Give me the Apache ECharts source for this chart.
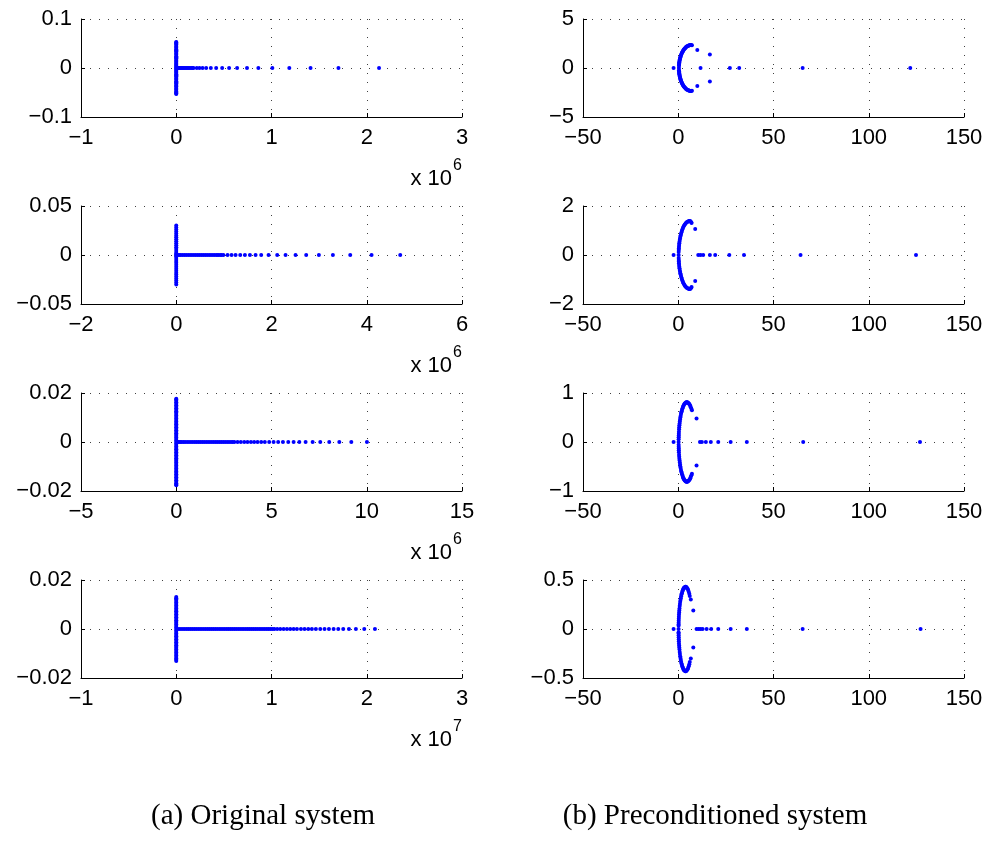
<!DOCTYPE html>
<html><head><meta charset="utf-8">
<script src="https://cdn.jsdelivr.net/npm/echarts@6/dist/echarts.min.js"></script>
<style>html,body{margin:0;padding:0;background:#fff}#c{width:991px;height:858px}</style>
</head><body><div id="c"></div>
<script>
// ================= DATA =================
// (a) Original system: eigenvalues on the real axis (x, in units of 10^exp)
const orig1Real = [0, 0.004, 0.009, 0.015, 0.022, 0.030, 0.039, 0.048, 0.058, 0.069, 0.080, 0.092, 0.104, 0.117, 0.130, 0.143, 0.157, 0.170, 0.182, 0.216, 0.244, 0.276, 0.314, 0.363, 0.419, 0.482, 0.555, 0.639, 0.743, 0.862, 1.009, 1.187, 1.410, 1.703, 2.129];
const orig2Real = [0, 0.01, 0.03, 0.06, 0.09, 0.13, 0.17, 0.21, 0.25, 0.29, 0.33, 0.37, 0.41, 0.45, 0.49, 0.53, 0.57, 0.61, 0.65, 0.69, 0.73, 0.77, 0.81, 0.85, 0.88, 0.92, 0.95, 0.99, 1.078, 1.162, 1.246, 1.344, 1.442, 1.547, 1.666, 1.784, 1.938, 2.120, 2.295, 2.505, 2.729, 2.995, 3.289, 3.653, 4.101, 4.703];
const orig3Real = [0, 0.03, 0.08, 0.14, 0.21, 0.29, 0.38, 0.47, 0.57, 0.67, 0.77, 0.87, 0.97, 1.07, 1.17, 1.27, 1.37, 1.47, 1.57, 1.67, 1.77, 1.87, 1.97, 2.07, 2.17, 2.27, 2.37, 2.47, 2.57, 2.67, 2.77, 2.87, 2.96, 3.05, 3.22, 3.39, 3.57, 3.74, 3.92, 4.09, 4.27, 4.46, 4.65, 4.88, 5.11, 5.35, 5.60, 5.88, 6.16, 6.46, 6.79, 7.16, 7.56, 8.03, 8.56, 9.19, 10.01];
const orig4Real = [0, 0.01, 0.03, 0.05, 0.07, 0.09, 0.11, 0.13, 0.15, 0.17, 0.19, 0.21, 0.23, 0.25, 0.27, 0.29, 0.31, 0.33, 0.35, 0.37, 0.39, 0.41, 0.43, 0.45, 0.47, 0.49, 0.51, 0.53, 0.55, 0.57, 0.59, 0.61, 0.63, 0.65, 0.67, 0.69, 0.71, 0.73, 0.75, 0.77, 0.79, 0.81, 0.83, 0.85, 0.87, 0.89, 0.91, 0.93, 0.95, 0.97, 0.99, 1.01, 1.03, 1.06, 1.092, 1.127, 1.162, 1.197, 1.232, 1.267, 1.309, 1.347, 1.386, 1.424, 1.466, 1.512, 1.557, 1.603, 1.652, 1.701, 1.753, 1.813, 1.886, 1.974, 2.086];
// (a) purely imaginary eigenvalues (positive half; conjugates are mirrored)
const orig1Imag = [0.002, 0.004, 0.006, 0.008, 0.010, 0.013, 0.015, 0.017, 0.020, 0.022, 0.024, 0.027, 0.029, 0.031, 0.034, 0.036, 0.038, 0.041, 0.043, 0.045, 0.048, 0.050, 0.052, 0.053];
const orig2Imag = [0.001, 0.002, 0.004, 0.006, 0.008, 0.010, 0.012, 0.014, 0.016, 0.018, 0.020, 0.022, 0.024, 0.026, 0.028, 0.030];
const orig3Imag = [0.0006, 0.0012, 0.0018, 0.0024, 0.0030, 0.0036, 0.0042, 0.0048, 0.0054, 0.0060, 0.0066, 0.0072, 0.0078, 0.0084, 0.0090, 0.0096, 0.0102, 0.0108, 0.0114, 0.0120, 0.0126, 0.0132, 0.0138, 0.0144, 0.0150, 0.0156, 0.0162, 0.0168, 0.0173, 0.0177];
const orig4Imag = [0.0006, 0.0012, 0.0018, 0.0024, 0.0030, 0.0036, 0.0042, 0.0048, 0.0054, 0.0060, 0.0066, 0.0072, 0.0078, 0.0084, 0.0090, 0.0096, 0.0102, 0.0108, 0.0114, 0.0120, 0.0126, 0.0131];

// (b) Preconditioned system: real eigenvalues
const prec1Real = [-2.45, 11.7, 27.1, 32.0, 65.3, 121.8];
const prec2Real = [-2.45, 10.5, 11.7, 13.1, 16.6, 19.4, 26.8, 34.5, 64.2, 124.8];
const prec3Real = [-2.45, 11.4, 12.4, 14.5, 17.1, 21.0, 27.5, 36.0, 65.6, 126.9];
const prec4Real = [-2.45, 9.6, 10.7, 11.7, 12.8, 14.9, 17.3, 21.0, 27.5, 36.0, 65.3, 127.2];
// (b) complex eigenvalues on the arc (upper half; conjugates are mirrored)
const prec1ArcRe = [0.35, 0.38, 0.42, 0.47, 0.53, 0.6, 0.7, 0.8, 0.92, 1.05, 1.2, 1.35, 1.52, 1.7, 1.9, 2.1, 2.35, 2.6, 2.85, 3.1, 3.4, 3.7, 4.0, 4.3, 4.65, 5.0, 5.35, 5.7, 6.05, 6.4, 6.8, 7.2];
const prec1ArcIm = [0, 0.23, 0.34, 0.45, 0.55, 0.65, 0.76, 0.86, 0.96, 1.06, 1.16, 1.25, 1.34, 1.43, 1.52, 1.60, 1.69, 1.78, 1.85, 1.92, 1.99, 2.05, 2.11, 2.16, 2.21, 2.25, 2.28, 2.31, 2.32, 2.34, 2.34, 2.33];
const prec2ArcRe = [0.2, 0.22, 0.26, 0.31, 0.38, 0.46, 0.55, 0.66, 0.78, 0.92, 1.08, 1.25, 1.45, 1.67, 1.9, 2.15, 2.45, 2.75, 3.1, 3.45, 3.85, 4.25, 4.7, 5.15, 5.6, 6.0, 6.4, 6.8, 7.0];
const prec2ArcIm = [0, 0.12, 0.20, 0.27, 0.34, 0.41, 0.48, 0.54, 0.61, 0.67, 0.74, 0.80, 0.86, 0.92, 0.98, 1.04, 1.10, 1.15, 1.20, 1.25, 1.29, 1.33, 1.35, 1.37, 1.39, 1.39, 1.38, 1.34, 1.31];
const prec3ArcRe = [0.2, 0.21, 0.23, 0.26, 0.3, 0.35, 0.42, 0.5, 0.59, 0.7, 0.82, 0.95, 1.1, 1.25, 1.42, 1.6, 1.8, 2.0, 2.25, 2.5, 2.75, 3.0, 3.3, 3.6, 3.9, 4.2, 4.5, 4.8, 5.1, 5.4, 5.7, 6.0, 6.3, 6.6, 6.9, 7.2];
const prec3ArcIm = [0, 0.055, 0.096, 0.135, 0.17, 0.21, 0.26, 0.30, 0.34, 0.38, 0.42, 0.46, 0.50, 0.53, 0.57, 0.60, 0.63, 0.66, 0.69, 0.72, 0.74, 0.76, 0.78, 0.79, 0.80, 0.81, 0.81, 0.81, 0.80, 0.79, 0.78, 0.76, 0.74, 0.71, 0.68, 0.65];
const prec4ArcRe = [0.17, 0.18, 0.19, 0.21, 0.24, 0.28, 0.33, 0.39, 0.46, 0.55, 0.65, 0.76, 0.88, 1.02, 1.17, 1.33, 1.5, 1.7, 1.9, 2.12, 2.35, 2.6, 2.85, 3.1, 3.4, 3.7, 4.0, 4.3, 4.6, 4.9, 5.2, 5.5, 5.8, 6.05];
const prec4ArcIm = [0, 0.032, 0.045, 0.064, 0.084, 0.105, 0.126, 0.147, 0.168, 0.19, 0.21, 0.235, 0.255, 0.277, 0.296, 0.315, 0.333, 0.351, 0.366, 0.381, 0.394, 0.406, 0.415, 0.422, 0.427, 0.43, 0.43, 0.426, 0.419, 0.41, 0.397, 0.38, 0.359, 0.337];
// (b) isolated complex eigenvalues (upper half)
const prec1IsoRe = [10.0, 16.6];  const prec1IsoIm = [1.83, 1.39];
const prec2IsoRe = [8.9];         const prec2IsoIm = [1.06];
const prec3IsoRe = [9.6];         const prec3IsoIm = [0.48];
const prec4IsoRe = [6.6, 7.9];    const prec4IsoIm = [0.30, 0.19];

// axis ticks [min, max, interval]
const origXTicks = [[-1, 3, 1], [-2, 6, 2], [-5, 15, 5], [-1, 3, 1]];
const origYTicks = [[-0.1, 0.1, 0.1], [-0.05, 0.05, 0.05], [-0.02, 0.02, 0.02], [-0.02, 0.02, 0.02]];
const origExp = ['6', '6', '6', '7'];
const precXTicks = [-50, 150, 50];
const precYTicks = [[-5, 5, 5], [-2, 2, 2], [-1, 1, 1], [-0.5, 0.5, 0.5]];
const captions = ['(a) Original system', '(b) Preconditioned system'];

// ================= BUILD =================
const origReal = [orig1Real, orig2Real, orig3Real, orig4Real];
const origImag = [orig1Imag, orig2Imag, orig3Imag, orig4Imag];
const precReal = [prec1Real, prec2Real, prec3Real, prec4Real];
const precArcRe = [prec1ArcRe, prec2ArcRe, prec3ArcRe, prec4ArcRe];
const precArcIm = [prec1ArcIm, prec2ArcIm, prec3ArcIm, prec4ArcIm];
const precIsoRe = [prec1IsoRe, prec2IsoRe, prec3IsoRe, prec4IsoRe];
const precIsoIm = [prec1IsoIm, prec2IsoIm, prec3IsoIm, prec4IsoIm];

function conjPairs(re, im) {
  const out = [];
  re.forEach((r, k) => { out.push([r, im[k]]); if (im[k] !== 0) out.push([r, -im[k]]); });
  return out;
}
const fmt = v => (v < 0 ? '\u2212' : '') + String(+Math.abs(v).toPrecision(6));

const tops = [19, 206, 393, 580];
const H = 98, W = 381, LX = 81, RX = 583;
const FONT = '"Liberation Sans", Arial, Helvetica, sans-serif';
const SYM = 4;

const grids = [], xAxes = [], yAxes = [], series = [], graphics = [];
function axisBase(isX) {
  return {
    type: 'value',
    axisLine: { show: true, onZero: false, lineStyle: { color: '#000', width: 1 } },
    axisTick: { show: true, inside: true, length: 4, lineStyle: { color: '#000' } },
    splitLine: { show: true, lineStyle: { color: '#000', width: 1, type: [1, 8], opacity: 0.75 } },
    axisLabel: { color: '#000', fontSize: 22, fontFamily: FONT, margin: isX ? 10 : 9, formatter: fmt, showMinLabel: true, showMaxLabel: true }
  };
}
for (let i = 0; i < 4; i++) {
  // left panel
  let gi = grids.length;
  grids.push({ left: LX, top: tops[i], width: W, height: H });
  xAxes.push(Object.assign(axisBase(true), { gridIndex: gi, min: origXTicks[i][0], max: origXTicks[i][1], interval: origXTicks[i][2] }));
  yAxes.push(Object.assign(axisBase(false), { gridIndex: gi, min: origYTicks[i][0], max: origYTicks[i][1], interval: origYTicks[i][2] }));
  const ldata = origReal[i].map(r => [r, 0]).concat(conjPairs(origImag[i].map(() => 0), origImag[i]));
  series.push({ type: 'scatter', xAxisIndex: gi, yAxisIndex: gi, data: ldata, symbol: 'circle', symbolSize: SYM, itemStyle: { color: '#0000ff', opacity: 1 }, silent: true, animation: false });
  // right panel
  gi = grids.length;
  grids.push({ left: RX, top: tops[i], width: W, height: H });
  xAxes.push(Object.assign(axisBase(true), { gridIndex: gi, min: precXTicks[0], max: precXTicks[1], interval: precXTicks[2] }));
  yAxes.push(Object.assign(axisBase(false), { gridIndex: gi, min: precYTicks[i][0], max: precYTicks[i][1], interval: precYTicks[i][2] }));
  const rdata = precReal[i].map(r => [r, 0]).concat(conjPairs(precArcRe[i], precArcIm[i]), conjPairs(precIsoRe[i], precIsoIm[i]));
  series.push({ type: 'scatter', xAxisIndex: gi, yAxisIndex: gi, data: rdata, symbol: 'circle', symbolSize: SYM, itemStyle: { color: '#0000ff', opacity: 1 }, silent: true, animation: false });
  // exponent label
  const bottom = tops[i] + H;
  graphics.push({ type: 'text', x: LX + W - 10, y: bottom + 62, style: { text: 'x 10', fontSize: 22, fontFamily: FONT, fill: '#000', align: 'right', verticalAlign: 'middle' } });
  graphics.push({ type: 'text', x: LX + W - 9, y: bottom + 49, style: { text: origExp[i], fontSize: 16, fontFamily: FONT, fill: '#000', align: 'left', verticalAlign: 'middle' } });
}
graphics.push({ type: 'text', x: 263, y: 816, style: { text: captions[0], fontSize: 29, fontFamily: '"Liberation Serif", "Times New Roman", serif', fill: '#000', align: 'center', verticalAlign: 'middle' } });
graphics.push({ type: 'text', x: 715, y: 816, style: { text: captions[1], fontSize: 29, fontFamily: '"Liberation Serif", "Times New Roman", serif', fill: '#000', align: 'center', verticalAlign: 'middle' } });

const chart = echarts.init(document.getElementById('c'), null, { renderer: 'canvas' });
chart.setOption({
  animation: false,
  backgroundColor: '#fff',
  grid: grids, xAxis: xAxes, yAxis: yAxes, series: series, graphic: graphics
});
</script></body></html>
